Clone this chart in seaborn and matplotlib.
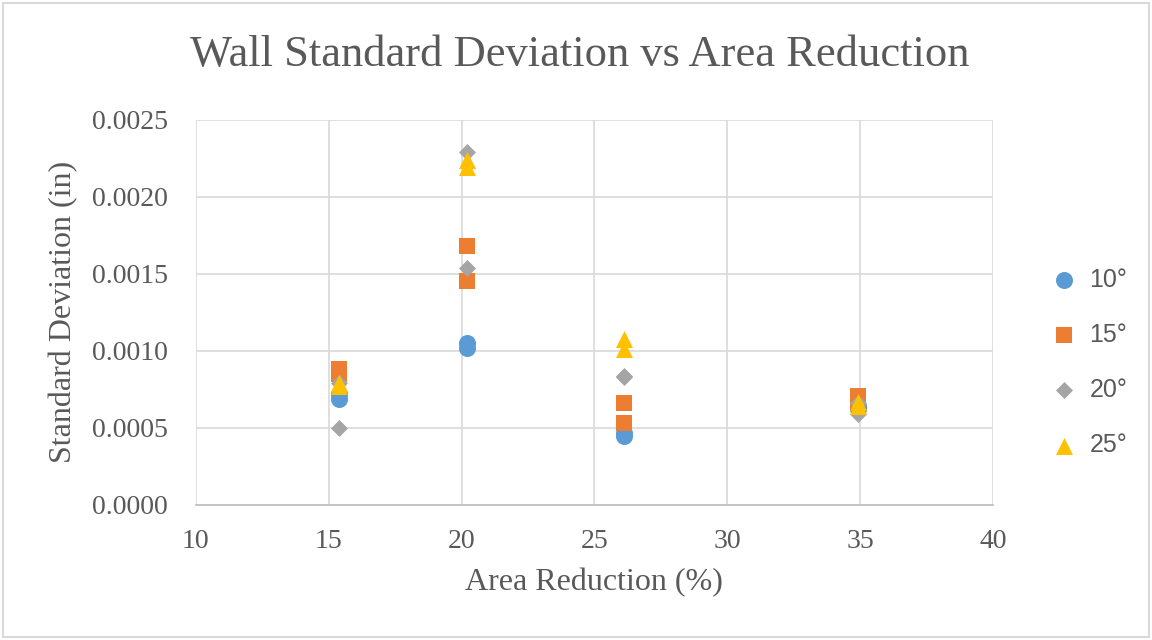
import pandas as pd
import numpy as np
import matplotlib
matplotlib.use("Agg")
import matplotlib.pyplot as plt
import seaborn as sns

# Datos
area_reduction = [15.4, 15.4, 20.2, 20.2, 26.1, 26.1, 34.9, 34.9]
sd_10 = [0.00069, 0.00072, 0.00105, 0.00102, 0.00045, 0.00047, 0.00062, 0.00064]
sd_15 = [0.00088, 0.00085, 0.00168, 0.00145, 0.00066, 0.00053, 0.00071, 0.00066]
sd_20 = [0.00050, 0.00079, 0.00229, 0.00154, 0.00084, 0.00083, 0.00059, 0.00066]
sd_25 = [0.00079, 0.00077, 0.00224, 0.00219, 0.00108, 0.00101, 0.00067, 0.00064]
series_labels = ["10°", "15°", "20°", "25°"]

x_ticks = [10, 15, 20, 25, 30, 35, 40]
y_ticks = [0.0, 0.0005, 0.0010, 0.0015, 0.0020, 0.0025]

df = pd.DataFrame({
    "area": area_reduction * 4,
    "sd": sd_10 + sd_15 + sd_20 + sd_25,
    "angle": np.repeat(series_labels, len(area_reduction)),
})

sns.set_theme(style="white")
plt.rcParams['font.family'] = ['Liberation Serif', 'DejaVu Serif']

colors = {"10°": "#5B9BD5", "15°": "#ED7D31", "20°": "#A5A5A5", "25°": "#FFC000"}
markers = {"10°": "o", "15°": "s", "20°": "D", "25°": "^"}
sizes = {"10°": 150, "15°": 140, "20°": 75, "25°": 150}

fig = plt.figure(figsize=(11.52, 6.4), dpi=100)
ax = fig.add_axes([0.170, 0.211, 0.692, 0.602])

for lab in series_labels:
    sub = df[df["angle"] == lab]
    sns.scatterplot(data=sub, x="area", y="sd", color=colors[lab], marker=markers[lab],
                    s=sizes[lab], linewidth=0, ax=ax, label=lab, zorder=3)

ax.set_xlim(10, 40)
ax.set_ylim(0, 0.0025)
ax.set_xticks(x_ticks)
ax.set_yticks(y_ticks)
ax.set_yticklabels([f"{v:.4f}" for v in y_ticks])
ax.grid(True, color="#D9D9D9", linewidth=1.2)
ax.set_axisbelow(True)
for s in ["top", "right", "left"]:
    ax.spines[s].set_visible(False)
ax.spines["bottom"].set_color("#BFBFBF")
ax.tick_params(axis="both", length=0, labelsize=20, colors="#595959")
ax.tick_params(axis="x", pad=17)
ax.tick_params(axis="y", pad=20)

ax.set_xlabel("Area Reduction (%)", fontsize=23, color="#595959", labelpad=10)
ax.set_ylabel("Standard Deviation (in)", fontsize=23, color="#595959", labelpad=10)
fig.text(0.503, 0.914, "Wall Standard Deviation vs Area Reduction", fontsize=32,
         color="#595959", ha="center", va="center")

leg = ax.legend(loc="center left", bbox_to_anchor=(1.03, 0.37), frameon=False,
                labelspacing=1.25, handletextpad=0.0, markerscale=1.0,
                prop={'family': 'Liberation Sans', 'size': 18})
for t in leg.get_texts():
    t.set_color("#595959")

# borde del grafico
fig.patches.append(plt.Rectangle((0.003, 0.004), 0.994, 0.992, transform=fig.transFigure,
                                 fill=False, edgecolor="#D9D9D9", linewidth=1.5))

fig.savefig("out.png", dpi=100)
